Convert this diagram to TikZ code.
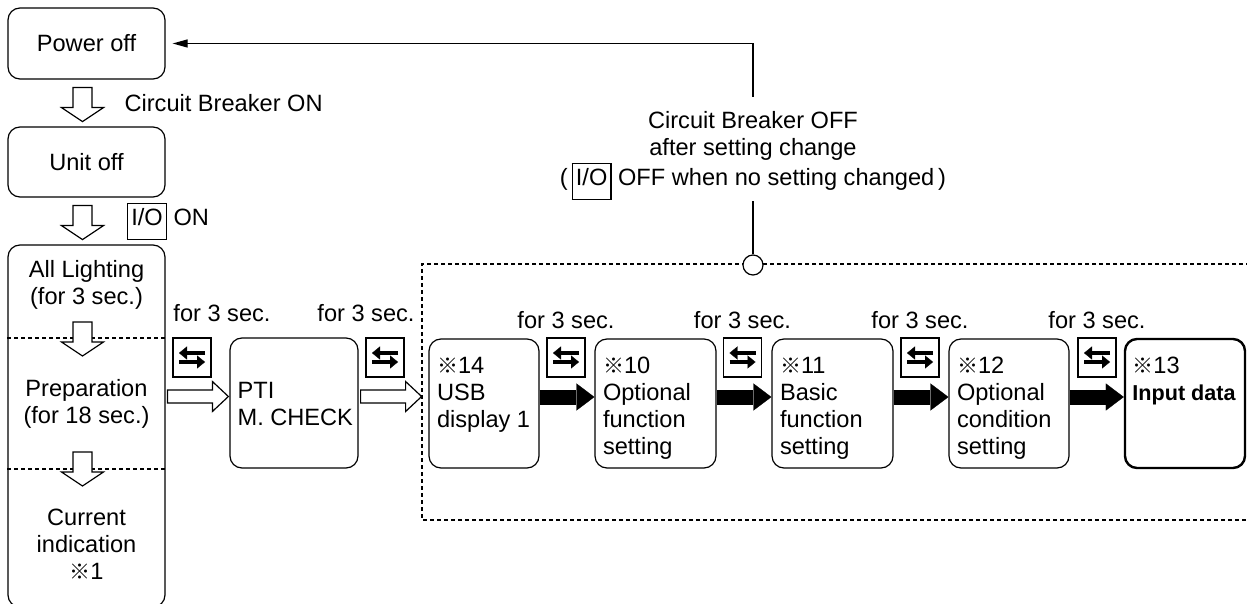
\documentclass[tikz,border=0pt]{standalone}
\usepackage{fontspec}
\setmainfont{Liberation Sans}
\newfontfamily\cjk{Noto Sans CJK JP}
\usepackage{tikz}
\usetikzlibrary{arrows.meta}
\newcommand{\refm}{{\cjk\fontsize{10.5pt}{10.5pt}\selectfont ※}}
\newcommand{\iobox}{{\setlength{\fboxsep}{1.5pt}\setlength{\fboxrule}{0.6pt}\fbox{\rule[-5pt]{0pt}{14.5pt}I/O}}}

\begin{document}
\begin{tikzpicture}[
    x=0.5pt, y=-0.5pt,
    font=\fontsize{11.8pt}{13.5pt}\selectfont,
    line width=0.6pt,
    box/.style={draw, rounded corners=6pt, inner sep=0pt},
    txt/.style={inner sep=0pt, align=left, anchor=north west},
    ctr/.style={inner sep=0pt, align=center},
    dsh/.style={dash pattern=on 2pt off 1.5pt},
    swbox/.style={draw, minimum width=19pt, minimum height=19.5pt, inner sep=0pt,
      path picture={
        \draw[line width=2pt, -{Triangle[length=4pt,width=6.5pt,line width=0.1pt]}]
          ([shift={(6.5pt,2.25pt)}]path picture bounding box.center) -- ++(-13pt,0pt);
        \draw[line width=2pt, -{Triangle[length=4pt,width=6.5pt,line width=0.1pt]}]
          ([shift={(-6.5pt,-2.25pt)}]path picture bounding box.center) -- ++(13pt,0pt);
      }},
    fwd/.style={line width=7.5pt, -{Triangle[length=9pt,width=13.5pt,line width=0.1pt]}},
    retarr/.style={-{Triangle[length=7.5pt,width=4pt]}},
    pics/downarr/.style={code={
      \draw[fill=white] (-9.5,0) -- (9.5,0) -- (9.5,20) -- (21,20) -- (0,34)
        -- (-21,20) -- (-9.5,20) -- cycle;}},
    pics/rightarr/.style={code={
      \draw[fill=white] (0,-6.5) -- (45,-6.5) -- (45,-15) -- (61,0) -- (45,15)
        -- (45,6.5) -- (0,6.5) -- cycle;}}
  ]
  \useasboundingbox (0,0) rectangle (1247,604);

  % left column
  \node[box, minimum width=78.5pt, minimum height=35.5pt] (poff) at (86.5,43.5) {Power off};
  \node[box, minimum width=78.5pt, minimum height=35pt] (uoff) at (86.5,162) {Unit off};
  \node[box, minimum width=78.5pt, minimum height=181pt] (big) at (86.5,426) {};
  \pic at ([shift={(-4,8)}]poff.south) {downarr};
  \pic at ([shift={(-4,8)}]uoff.south) {downarr};
  \node[anchor=west, inner sep=0pt] (cbon) at (124,103) {Circuit Breaker ON};
  \node[anchor=west, inner sep=0pt] (ion) at (126.5,221.5) {\iobox\ ON};

  \coordinate (d1) at (0,338);
  \coordinate (d2) at (0,469);
  \draw[dsh] (big.west |- d1) -- (big.east |- d1);
  \draw[dsh] (big.west |- d2) -- (big.east |- d2);
  \pic at (82.5,322) {downarr};
  \pic at (82.5,452) {downarr};
  \node[ctr] (lit) at (86.5,285) {All Lighting\\(for 3 sec.)};
  \node[ctr] (prep) at (86.5,404) {Preparation\\(for 18 sec.)};
  \node[ctr] (cur) at (86.5,544) {Current\\indication\\\refm1};

  % PTI
  \node[box, minimum width=64pt, minimum height=65pt] (pti) at (294,403) {};
  \node[anchor=west, inner sep=0pt, align=left] (ptit) at (237,404) {PTI\\M. CHECK};
  \pic at ([shift={(-62,-6.5)}]pti.west) {rightarr};
  \pic at ([shift={(2,-6.5)}]pti.east) {rightarr};

  % setting modes
  \draw[dsh] (1250,264) -- (422,264) -- (422,520) -- (1250,520);
  \node[box, minimum width=55pt, minimum height=64.5pt] (usb) at (484,403.5) {};
  \node[box, minimum width=60.5pt, minimum height=64.5pt] (optf) at (655.5,403.5) {};
  \node[box, minimum width=60.5pt, minimum height=64.5pt] (basic) at (832.5,403.5) {};
  \node[box, minimum width=60pt, minimum height=64.5pt] (optc) at (1009,403.5) {};
  \node[box, line width=1.2pt, minimum width=60pt, minimum height=64.5pt] (inp) at (1185,403.5) {};
  \node[txt] at ([shift={(8,18.5)}]usb.north west) {\refm14\\USB\\display 1};
  \node[txt] at ([shift={(8,18.5)}]optf.north west) {\refm10\\Optional\\function\\setting};
  \node[txt] at ([shift={(8,18.5)}]basic.north west) {\refm11\\Basic\\function\\setting};
  \node[txt] at ([shift={(8,18.5)}]optc.north west) {\refm12\\Optional\\condition\\setting};
  \node[txt] at ([shift={(8,18.5)}]inp.north west) {\refm13\\{\fontsize{10.8pt}{13.5pt}\selectfont\bfseries Input data}};
  \foreach \a/\b in {usb/optf, optf/basic, basic/optc, optc/inp}
    \draw[fwd] ([yshift=3.25pt]\a.east) -- ([yshift=3.25pt]\b.west);

  % switch keys
  \foreach \n/\x in {1/192, 2/385, 3/566, 4/742.5, 5/920, 6/1097}
    \node[swbox] (sw\n) at (\x,357.5) {};
  \node (f1) at (222,313) {for 3 sec.};
  \node (f2) at (366,313) {for 3 sec.};
  \foreach \n in {3,4,5,6}
    \node (f\n) at ([yshift=18.75pt]sw\n.center) {for 3 sec.};

  % return to power off
  \node[circle, draw, fill=white, minimum size=10pt, inner sep=0pt] (circ) at (753,265) {};
  \node[ctr, anchor=north] (note) at (753,111)
    {Circuit Breaker OFF\\after setting change\\(\kern2pt\iobox\ OFF when no setting changed\kern2pt)};
  \draw (circ.north) -- (circ.north |- note.south);
  \draw[retarr, shorten >=3.5pt] ([yshift=7pt]note.north) |- (poff.east);
\end{tikzpicture}
\end{document}
